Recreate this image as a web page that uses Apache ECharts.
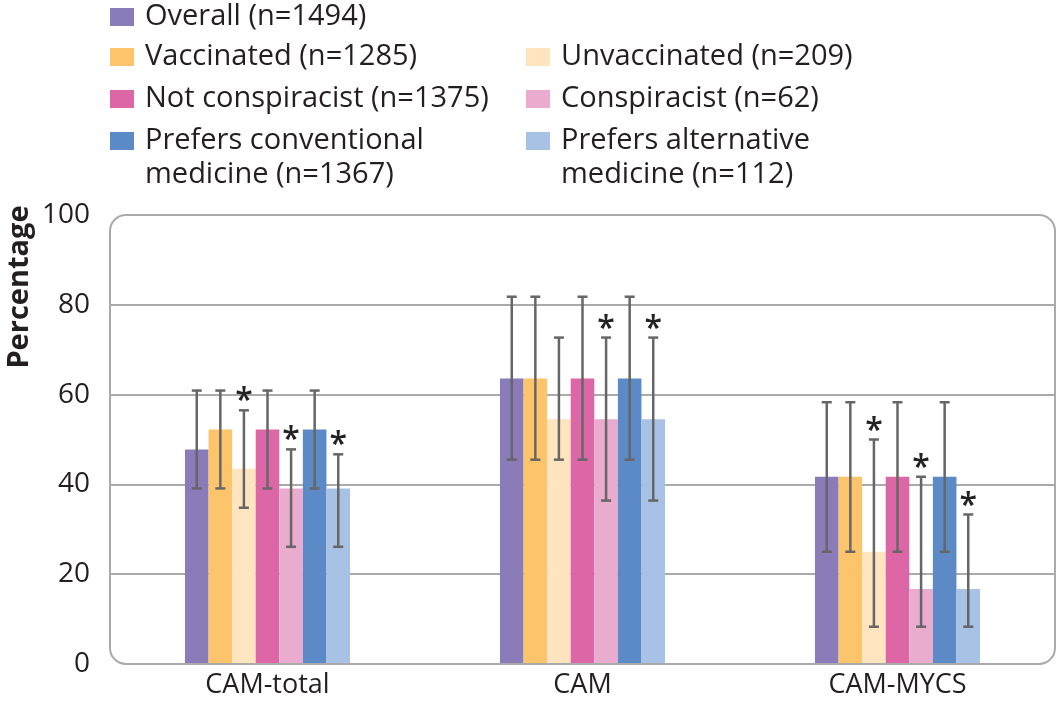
<!DOCTYPE html>
<html><head><meta charset="utf-8">
<script src="https://cdn.jsdelivr.net/npm/echarts@6/dist/echarts.min.js"></script>
<style>html,body{margin:0;padding:0;background:#fff}#c{width:1058px;height:704px}</style>
</head><body><div id="c"></div>
<script>
const categories = ['CAM-total', 'CAM', 'CAM-MYCS'];
const yTicks = [0, 20, 40, 60, 80, 100];

const overall = [47.8, 63.6, 41.7];
const overallLow = [39.1, 45.5, 25.0];
const overallHigh = [60.9, 81.8, 58.3];

const vaccinated = [52.2, 63.6, 41.7];
const vaccinatedLow = [39.1, 45.5, 25.0];
const vaccinatedHigh = [60.9, 81.8, 58.3];

const unvaccinated = [43.5, 54.5, 25.0];
const unvaccinatedLow = [34.8, 45.5, 8.3];
const unvaccinatedHigh = [56.5, 72.7, 50.0];
const unvaccinatedSig = [1, 0, 1];

const notConspiracist = [52.2, 63.6, 41.7];
const notConspiracistLow = [39.1, 45.5, 25.0];
const notConspiracistHigh = [60.9, 81.8, 58.3];

const conspiracist = [39.1, 54.5, 16.7];
const conspiracistLow = [26.1, 36.4, 8.3];
const conspiracistHigh = [47.8, 72.7, 41.7];
const conspiracistSig = [1, 1, 1];

const conventional = [52.2, 63.6, 41.7];
const conventionalLow = [39.1, 45.5, 25.0];
const conventionalHigh = [60.9, 81.8, 58.3];

const alternative = [39.1, 54.5, 16.7];
const alternativeLow = [26.1, 36.4, 8.3];
const alternativeHigh = [46.7, 72.7, 33.3];
const alternativeSig = [1, 1, 1];

const names = [
  'Overall (n=1494)', 'Vaccinated (n=1285)', 'Unvaccinated (n=209)',
  'Not conspiracist (n=1375)', 'Conspiracist (n=62)',
  'Prefers conventional\nmedicine (n=1367)', 'Prefers alternative\nmedicine (n=112)'
];
const colors = ['#8a7bb9', '#fdc56b', '#fee5bf', '#dd67a6', '#e9accf', '#5c8ac6', '#a8c2e5'];
const values = [overall, vaccinated, unvaccinated, notConspiracist, conspiracist, conventional, alternative];
const lows = [overallLow, vaccinatedLow, unvaccinatedLow, notConspiracistLow, conspiracistLow, conventionalLow, alternativeLow];
const highs = [overallHigh, vaccinatedHigh, unvaccinatedHigh, notConspiracistHigh, conspiracistHigh, conventionalHigh, alternativeHigh];
const sigs = [null, null, unvaccinatedSig, null, conspiracistSig, null, alternativeSig];

const FONT = '"Open Sans"';
const GAP = 0.476;
const G = {left: 110, right: 3, top: 215, bottom: 40};
const N = names.length;
const TXT = '#231f20';

const series = [];
values.forEach((v, i) => {
  series.push({
    type: 'bar', name: names[i], data: v,
    itemStyle: {color: colors[i]},
    barGap: '0%', barCategoryGap: (GAP * 100) + '%',
    silent: true
  });
});
values.forEach((v, i) => {
  series.push({
    type: 'custom', name: names[i] + ' CI', z: 10, silent: true,
    encode: {x: 0, y: [1, 2]},
    data: categories.map((c, k) => [k, lows[i][k], highs[i][k], sigs[i] ? sigs[i][k] : 0]),
    renderItem: function (params, api) {
      const k = api.value(0);
      const band = api.size([1, 0])[0];
      const bw = band * (1 - GAP) / N;
      const cx = api.coord([k, 0])[0] + (i - (N - 1) / 2) * bw;
      const yl = api.coord([k, api.value(1)])[1];
      const yh = api.coord([k, api.value(2)])[1];
      const st = {stroke: '#666', lineWidth: 2.5};
      const children = [
        {type: 'line', shape: {x1: cx, y1: yl, x2: cx, y2: yh}, style: st},
        {type: 'line', shape: {x1: cx - 5, y1: yl, x2: cx + 5, y2: yl}, style: st},
        {type: 'line', shape: {x1: cx - 5, y1: yh, x2: cx + 5, y2: yh}, style: st}
      ];
      if (api.value(3)) {
        children.push({type: 'text', style: {text: '*', x: cx, y: yh + 8, align: 'center', verticalAlign: 'bottom',
          font: '600 32px ' + FONT, fill: '#222'}});
      }
      return {type: 'group', children: children};
    }
  });
});

const richT = {fontFamily: FONT, fontSize: 29, color: TXT, lineHeight: 34, padding: [0, 0, 0, 6]};
function fmtLegend(name) {
  const lines = name.split('\n');
  const body = lines.map(l => '{t|' + l + '}').join('\n');
  return lines.length > 1 ? '{e| }\n' + body : body;
}
const legendBase = {
  orient: 'vertical', icon: 'rect', itemWidth: 24, itemHeight: 18, itemGap: 8, padding: 0,
  selectedMode: false, formatter: fmtLegend,
  textStyle: {fontFamily: FONT, fontSize: 29, color: TXT, lineHeight: 34,
    rich: {t: richT, e: {fontSize: 29, lineHeight: 34}}}
};

const chart = echarts.init(document.getElementById('c'), null, {renderer: 'canvas'});
chart.setOption({
  animation: false,
  color: colors,
  legend: [
    Object.assign({}, legendBase, {left: 110, top: 0, data: [names[0]]}),
    Object.assign({}, legendBase, {left: 110, top: 40, data: [names[1], names[3]]}),
    Object.assign({}, legendBase, {left: 526, top: 40, data: [names[2], names[4]]}),
    Object.assign({}, legendBase, {left: 110, top: 90, data: [names[5]]}),
    Object.assign({}, legendBase, {left: 526, top: 90, data: [names[6]]})
  ],
  grid: Object.assign({outerBoundsMode: 'none', containLabel: false}, G),
  xAxis: {
    type: 'category', data: categories,
    axisLine: {show: false}, axisTick: {show: false},
    axisLabel: {fontFamily: FONT, fontSize: 27, color: TXT, margin: 8}
  },
  yAxis: {
    type: 'value', min: yTicks[0], max: yTicks[yTicks.length - 1], interval: 20,
    axisLine: {show: false}, axisTick: {show: false},
    axisLabel: {fontFamily: FONT, fontSize: 28, color: TXT, margin: 20},
    splitLine: {lineStyle: {color: ['rgba(0,0,0,0)', '#aaaaaa', '#aaaaaa', '#aaaaaa', '#aaaaaa', 'rgba(0,0,0,0)'], width: 2}}
  },
  graphic: [
    {type: 'rect', silent: true, z: 100,
      shape: {x: G.left, y: G.top, width: 1058 - G.left - G.right, height: 704 - G.top - G.bottom, r: 16},
      style: {fill: 'none', stroke: '#aaaaaa', lineWidth: 2}},
    {type: 'text', silent: true, x: 20, y: 287, rotation: Math.PI / 2,
      style: {text: 'Percentage', font: 'bold 29px ' + FONT, fill: TXT, align: 'center', verticalAlign: 'middle'}}
  ],
  series: series
});
</script></body></html>
